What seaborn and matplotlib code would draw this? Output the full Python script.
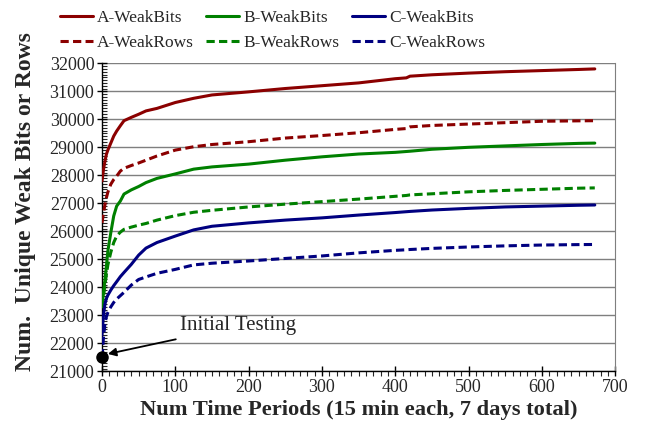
import matplotlib
matplotlib.use("Agg")
import matplotlib.pyplot as plt
import seaborn as sns
import pandas as pd
from matplotlib.ticker import MultipleLocator

# --- data ---
periods = [0, 2, 4, 6, 8, 12, 16, 20, 25, 30, 40, 50, 60, 75, 100, 125, 150,
           200, 250, 300, 350, 400, 415, 420, 450, 500, 550, 600, 650, 672]

a_bits = [27800, 28200, 28500, 28750, 28900, 29150, 29400, 29580, 29770, 29950,
          30070, 30180, 30300, 30390, 30600, 30750, 30870, 30980, 31100, 31200,
          31300, 31450, 31480, 31540, 31590, 31650, 31700, 31740, 31780, 31800]
a_rows = [26300, 26650, 26950, 27200, 27400, 27680, 27850, 27970, 28150, 28250,
          28350, 28440, 28540, 28690, 28900, 29020, 29100, 29200, 29330, 29420,
          29520, 29640, 29670, 29730, 29780, 29830, 29880, 29930, 29945, 29950]
b_bits = [23300, 23800, 24250, 24750, 25300, 25950, 26550, 26900, 27080, 27330,
          27480, 27600, 27740, 27890, 28050, 28220, 28300, 28400, 28540, 28660,
          28760, 28820, 28850, 28860, 28930, 29000, 29050, 29100, 29140, 29150]
b_rows = [23300, 23650, 24100, 24450, 24800, 25250, 25600, 25830, 25970, 26070,
          26150, 26220, 26280, 26400, 26560, 26680, 26750, 26870, 26970, 27060,
          27150, 27250, 27280, 27300, 27340, 27410, 27460, 27500, 27540, 27550]
c_bits = [22300, 23000, 23400, 23600, 23720, 23900, 24060, 24200, 24380, 24530,
          24820, 25150, 25400, 25600, 25830, 26050, 26180, 26300, 26400, 26480,
          26580, 26670, 26700, 26710, 26760, 26820, 26870, 26900, 26930, 26940]
c_rows = [21500, 22200, 22700, 22950, 23100, 23300, 23460, 23580, 23700, 23820,
          24080, 24280, 24370, 24500, 24640, 24800, 24860, 24940, 25030, 25120,
          25230, 25320, 25340, 25350, 25390, 25440, 25480, 25510, 25525, 25530]

series_names = ["A-WeakBits", "A-WeakRows", "B-WeakBits",
                "B-WeakRows", "C-WeakBits", "C-WeakRows"]
series_vals = [a_bits, a_rows, b_bits, b_rows, c_bits, c_rows]

initial_x = [0]
initial_y = [21500]

# long-form table for seaborn
rows = []
for name, vals in zip(series_names, series_vals):
    for t, v in zip(periods, vals):
        rows.append({"t": t, "v": v, "series": name})
df = pd.DataFrame(rows)

palette = {"A-WeakBits": "#8b0000", "A-WeakRows": "#8b0000",
           "B-WeakBits": "#008000", "B-WeakRows": "#008000",
           "C-WeakBits": "#000080", "C-WeakRows": "#000080"}
dashes = {n: ("" if n.endswith("Bits") else (2.7, 1.4)) for n in series_names}

sns.set_style("white")
plt.rcParams["font.family"] = ["Liberation Serif", "DejaVu Serif"]

fig = plt.figure(figsize=(6.53, 4.26), dpi=100)
ax = fig.add_axes([0.1562, 0.1284, 0.9423 - 0.1562, 0.8514 - 0.1284])

sns.lineplot(data=df, x="t", y="v", hue="series", style="series",
             palette=palette, dashes=dashes, hue_order=series_names,
             style_order=series_names, linewidth=2.2, ax=ax, zorder=3)

ax.plot(initial_x, initial_y, "o", color="black", markersize=8,
        zorder=5, clip_on=False)
ax.annotate("Initial Testing", xy=(8, 21620), xytext=(106, 22620),
            fontsize=15, va="center", ha="left",
            arrowprops=dict(arrowstyle="-|>", color="black", lw=1.3,
                            mutation_scale=12, shrinkA=2, shrinkB=0))

ax.set_xlim(0, 700)
ax.set_ylim(21000, 32000)
ax.xaxis.set_major_locator(MultipleLocator(100))
ax.xaxis.set_minor_locator(MultipleLocator(10))
ax.yaxis.set_major_locator(MultipleLocator(1000))
ax.yaxis.set_minor_locator(MultipleLocator(100))
ax.tick_params(which="major", direction="inout", length=7, width=1,
               labelsize=13, color="black", pad=2)
ax.tick_params(axis="x", which="minor", direction="out", length=3.5, width=0.8)
ax.tick_params(axis="y", which="minor", direction="in", length=3.5, width=0.8)
ax.tick_params(which="both", bottom=True, left=True)

ax.grid(axis="y", which="major", color="#7f7f7f", linewidth=1.0)
ax.grid(axis="x", visible=False)
ax.set_axisbelow(True)
for side in ["left", "bottom"]:
    ax.spines[side].set_color("black")
    ax.spines[side].set_linewidth(1.0)
ax.spines["right"].set_color("#7f7f7f")
ax.spines["top"].set_visible(False)

ax.set_xlabel("Num Time Periods (15 min each, 7 days total)",
              fontsize=16.2, fontweight="bold", labelpad=3)
ax.set_ylabel("Num.  Unique Weak Bits or Rows",
              fontsize=17, fontweight="bold")
ax.yaxis.set_label_coords(-0.128, 0.55)

handles, labels = ax.get_legend_handles_labels()
ax.legend(handles, labels, ncol=3, loc="upper left",
          bbox_to_anchor=(60 / 653, 1 - 10 / 426),
          bbox_transform=fig.transFigure, frameon=False, fontsize=12.5,
          handlelength=1.9, columnspacing=0.7, labelspacing=0.5,
          handletextpad=0.25, borderaxespad=0, borderpad=0)

fig.savefig("out.png", dpi=100)
